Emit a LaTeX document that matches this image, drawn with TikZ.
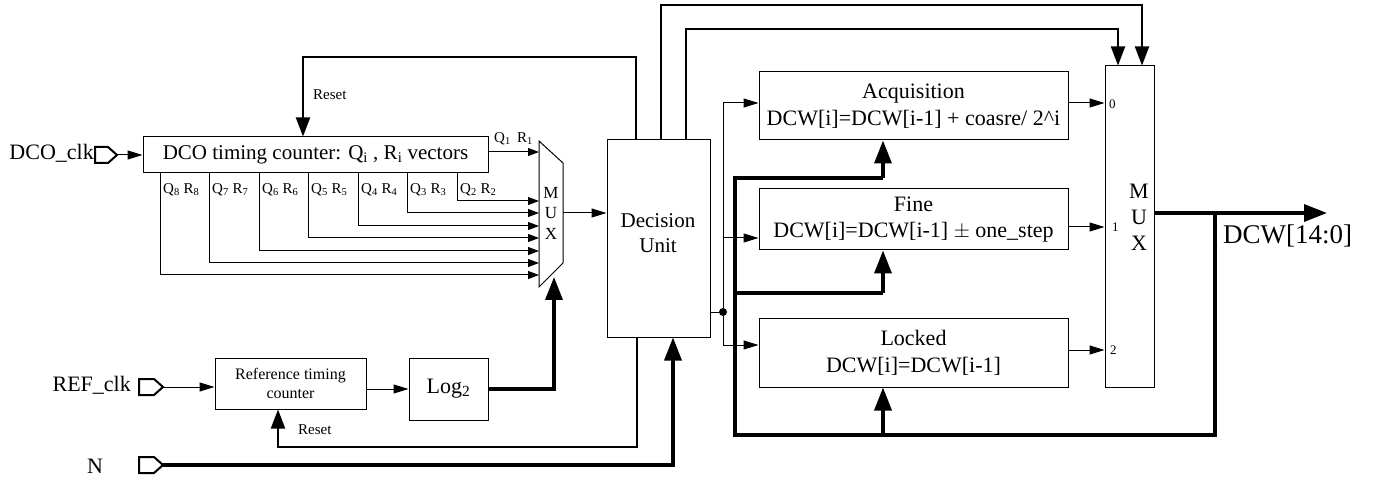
\documentclass[tikz,border=0pt]{standalone}
\usepackage{fontspec}
\setmainfont{Liberation Serif}
\usetikzlibrary{arrows.meta}
\newcommand\fsz[2]{\rmfamily\fontsize{#1}{#2}\selectfont}
\begin{document}
\begin{tikzpicture}[x=1pt,y=-1pt,
  box/.style={draw, line width=1pt, inner sep=0pt, align=center},
  thn/.style={line width=1pt},
  med/.style={line width=2pt},
  thk/.style={line width=3.5pt},
  sa/.style={-{Triangle[length=11pt,width=8pt]}},
  ta/.style={-{Triangle[length=15pt,width=9pt]}},
  ma/.style={-{Triangle[length=19pt,width=14pt]}},
  ba/.style={-{Triangle[length=23pt,width=17pt]}},
  qlab/.style={font=\fsz{15}{17}, inner sep=0pt},
  port/.style={line width=2pt, line join=miter}]
\useasboundingbox (0,0) rectangle (1385,481);

% ---------- boxes ----------
\node[box, minimum width=345pt, minimum height=36pt, font=\fsz{21}{25}] (dco) at (315.5,155)
  {DCO timing counter: Q\textsubscript{i} , R\textsubscript{i} vectors};
\node[box, minimum width=103pt, minimum height=197pt] (dec) at (658.5,238.5) {};
\node[font=\fsz{21}{25}, align=center, inner sep=0pt] (dect) at (658,233) {Decision\\Unit};
\node[box, minimum width=309pt, minimum height=68pt, font=\fsz{22}{27}] (acq) at (913.5,106)
  {Acquisition\\DCW[i]=DCW[i-1] + coasre/ 2\textasciicircum i};
\node[box, minimum width=309pt, minimum height=61pt, font=\fsz{22}{26}] (fine) at (913.5,219.5)
  {Fine\\DCW[i]=DCW[i-1] $\pm$\ one\_step};
\node[box, minimum width=309pt, minimum height=69pt, font=\fsz{22}{27}] (lock) at (913.5,352.5)
  {Locked\\DCW[i]=DCW[i-1]};
\node[box, minimum width=49pt, minimum height=321pt] (mux2) at (1129.5,226.5) {};
\node[font=\fsz{22}{26}, align=center, inner sep=0pt] (mux2t) at (1139,217) {M\\U\\X};
\node[box, minimum width=151pt, minimum height=51pt, font=\fsz{16}{19}] (ref) at (290.5,383.5)
  {Reference timing\\counter};
\node[box, minimum width=79pt, minimum height=62pt, font=\fsz{22}{25}] (log) at (448.5,389)
  {Log\textsubscript{2}};

% ---------- first MUX ----------
\coordinate (m1a) at (539,141);
\coordinate (m1b) at (563,163);
\coordinate (m1c) at (563,263);
\coordinate (m1d) at (539,287);
\draw[thn] (m1a) -- (m1b) -- (m1c) -- (m1d) -- cycle;
\node[font=\fsz{17}{20.5}, align=center, inner sep=0pt] (mux1) at (551,213) {M\\U\\X};

% ---------- ports ----------
\draw[port] (95,147) -- (108,147) -- (117,155) -- (108,163) -- (95,163) -- cycle;
\coordinate (dcoport) at (117,155);
\draw[port] (139,379) -- (154,379) -- (163,387) -- (154,395) -- (139,395) -- cycle;
\coordinate (refport) at (163,387);
\draw[port] (139,457) -- (154,457) -- (163,465) -- (154,473) -- (139,473) -- cycle;
\coordinate (nport) at (163,465);

\node[font=\fsz{22}{25}, anchor=east, inner sep=0pt] (lclk) at (94,153) {DCO\_clk};
\node[font=\fsz{22}{25}, anchor=east, inner sep=0pt] (lref) at (131,385) {REF\_clk};
\node[font=\fsz{22}{25}, inner sep=0pt] (ln) at (95,466) {N};

% ---------- inputs ----------
\draw[thn,ta] (dcoport) -- (dco.west);
\draw[thn,ta] (refport) -- (refport -| ref.west);
\draw[thn,ta] (ref.east |- log) -- (log.west);
\draw[thk,ba] (nport) -| ([xshift=14.5pt]dec.south);

% ---------- counter outputs into MUX ----------
\coordinate (q1s) at ([yshift=3pt]dco.east);
\draw[thn,sa] (q1s) -- (q1s -| m1a);
\node[qlab, anchor=west] (ql1) at (494,139) {Q\textsubscript{1}\, R\textsubscript{1}};
\foreach \n/\px/\py in {2/457/201, 3/407/213, 4/358/226, 5/308/238, 6/259/251, 7/209/263, 8/160/275} {
  \coordinate (qs\n) at (\px,173);
  \coordinate (mi\n) at (539,\py);
  \draw[thn,sa] (qs\n) |- (mi\n);
  \node[qlab, anchor=west] (ql\n) at (\px+3,190) {Q\textsubscript{\n} R\textsubscript{\n}};
}
\coordinate (m1o) at (563,213);
\draw[thn,ta] (m1o) -- (m1o -| dec.west);
\coordinate (m1bot) at (554,277);
\draw[thk,ba] (log.east) -| (m1bot);

% ---------- resets ----------
\coordinate (r1c) at (303,57);
\draw[med,ma] ([xshift=-22.5pt]dec.north) |- (r1c) -- ([xshift=-12.5pt]dco.north);
\node[font=\fsz{15}{17}, anchor=west, inner sep=0pt] (rst1) at (313,95) {Reset};
\coordinate (r2c) at (278,447);
\draw[med,ma] ([xshift=-21.5pt]dec.south) |- (r2c) -- ([xshift=-12.5pt]ref.south);
\node[font=\fsz{15}{17}, anchor=west, inner sep=0pt] (rst2) at (298,430) {Reset};

% ---------- select lines to output MUX ----------
\coordinate (o1) at (1142,5);
\draw[med,ma] ([xshift=2.5pt]dec.north) |- (o1) -- ([xshift=12.5pt]mux2.north);
\coordinate (i1) at (1118,29);
\draw[med,ma] ([xshift=27.5pt]dec.north) |- (i1) -- ([xshift=-11.5pt]mux2.north);

% ---------- decision to mode blocks ----------
\node[circle, fill, inner sep=0pt, minimum size=8pt] (dot) at (723,312) {};
\draw[thn] (dec.east |- dot) -- (dot);
\coordinate (ain) at ([yshift=3pt]acq.west);
\coordinate (fin) at ([yshift=-18.5pt]fine.west);
\coordinate (lin) at ([yshift=7.5pt]lock.west);
\draw[thn,ta] (dot) |- (ain);
\draw[thn,ta] (dot |- fin) -- (fin);
\draw[thn,ta] (dot) |- (lin);

% ---------- mode blocks to output MUX ----------
\coordinate (aout) at ([yshift=3pt]acq.east);
\coordinate (fout) at ([yshift=-7.5pt]fine.east);
\coordinate (lout) at ([yshift=2.5pt]lock.east);
\draw[thn,ta] (aout) -- (aout -| mux2.west);
\draw[thn,ta] (fout) -- (fout -| mux2.west);
\draw[thn,ta] (lout) -- (lout -| mux2.west);
\node[font=\fsz{13}{15}, anchor=west, inner sep=0pt] (s0) at (1109,104) {0};
\node[font=\fsz{13}{15}, anchor=west, inner sep=0pt] (s1) at (1112,227) {1};
\node[font=\fsz{13}{15}, anchor=west, inner sep=0pt] (s2) at (1110,350) {2};

% ---------- output and feedback ----------
\coordinate (mo) at (1154,213);
\coordinate (outend) at (1327,213);
\draw[thk,ba] (mo) -- (outend);
\node[font=\fsz{27}{30}, anchor=west, inner sep=0pt] (dcw) at (1223,236) {DCW[14:0]};
\coordinate (fbtap) at (1215,213);
\coordinate (fbbot) at (735,435);
\coordinate (fba) at (883,178);
\coordinate (fbm) at (735,293);
\coordinate (fbf) at (883,293);
\coordinate (fbl) at (883,435);
\draw[thk] (fbtap) |- (fbbot) |- (fba);
\draw[thk,ba] (fba) -- (fba |- acq.south);
\draw[thk] (fbm) -- (fbf);
\draw[thk,ba] (fbf) -- (fbf |- fine.south);
\draw[thk,ba] (fbl) -- (fbl |- lock.south);
\end{tikzpicture}
\end{document}
